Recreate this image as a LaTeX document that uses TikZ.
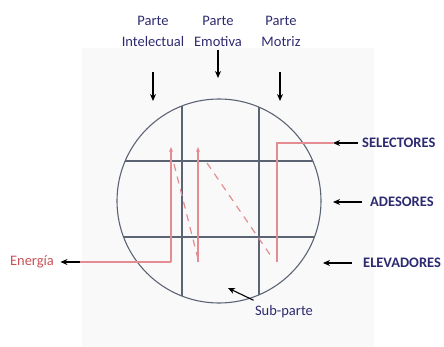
\documentclass[tikz,border=0pt]{standalone}
\usepackage{fontspec}
\setmainfont{Carlito}
\usetikzlibrary{positioning,arrows.meta}

\definecolor{navy}{RGB}{45,42,112}
\definecolor{gridgray}{RGB}{92,100,116}
\definecolor{rosa}{RGB}{228,140,146}
\definecolor{energia}{RGB}{200,82,88}

\tikzset{
  parte/.style={text=navy, font=\fontsize{14.5}{21}\selectfont, align=center},
  tag/.style={text=navy, font=\bfseries\fontsize{14.5}{17}\selectfont, anchor=west, inner sep=0pt},
  pointer/.style={-{Stealth[length=7pt,width=6pt]}, line width=1.1pt},
  flow/.style={rosa, line width=1.2pt},
  sube/.style={flow, -{Stealth[length=5pt,width=4pt]}},
  cruce/.style={rosa, line width=1.2pt, dash pattern=on 7pt off 6pt}
}

\begin{document}
\begin{tikzpicture}[x=1pt, y=-1pt]

    \useasboundingbox (0,0) rectangle (444,347);
    \fill[gray!5] (82,48) rectangle (374,347);

    % circle with grid
    \coordinate (O) at (219,201);
    \begin{scope}
        \clip (O) circle (102pt);
        \draw[gridgray, line width=1.1pt] (182,90) -- (182,310);
        \draw[gridgray, line width=1.1pt] (259,90) -- (259,310);
        \draw[gridgray, line width=1.1pt] (110,161) -- (330,161);
        \draw[gridgray, line width=1.1pt] (110,237) -- (330,237);
    \end{scope}
    \draw[gridgray, line width=1.1pt] (O) circle (102pt);

    % energy path
    \coordinate (e0) at (80,262);
    \coordinate (e1) at (171,262);
    \coordinate (t1) at (171,147);
    \coordinate (b2) at (198,262);
    \coordinate (t2) at (198,147);
    \coordinate (b3) at (277,262);
    \coordinate (t3) at (277,143);
    \coordinate (s1) at (333,143);

    \draw[flow] (e0) -- (e1);
    \draw[sube] (e1) -- (t1);
    \draw[sube] (b2) -- (t2);
    \draw[flow] (b3) -- (t3) -- (s1);
    \draw[cruce] ([xshift=3pt,yshift=-17pt]t1) -- ([yshift=3pt]b2);
    \draw[cruce] ([xshift=9pt,yshift=-16pt]t2) -- ([xshift=-4pt,yshift=3pt]b3);

    % top labels
    \node[parte] (int) at (153,31) {Parte\\Intelectual};
    \node[parte] (emo) at (218,31) {Parte\\Emotiva};
    \node[parte] (mot) at (281,31) {Parte\\Motriz};
    \coordinate (int-a) at (153,72);
    \coordinate (int-b) at (153,101);
    \coordinate (emo-a) at (218,50);
    \coordinate (emo-b) at (218,78);
    \coordinate (mot-a) at (280,72);
    \coordinate (mot-b) at (280,101);
    \draw[pointer] (int-a) -- (int-b);
    \draw[pointer] (emo-a) -- (emo-b);
    \draw[pointer] (mot-a) -- (mot-b);

    % right labels
    \node[tag] (sel) at (362,143) {SELECTORES};
    \node[tag] (ade) at (370,202) {ADESORES};
    \node[tag] (ele) at (363,263) {ELEVADORES};
    \coordinate (ade-b) at (333,202);
    \coordinate (ele-b) at (323,263);
    \draw[pointer] ([xshift=-4pt]sel.west) -- (s1);
    \draw[pointer] ([xshift=-8pt]ade.west) -- (ade-b);
    \draw[pointer] ([xshift=-11pt]ele.west) -- (ele-b);

    % energy and sub-part
    \node[text=energia, font=\fontsize{14.5}{17}\selectfont] (en) at (32,262) {Energía};
    \draw[pointer, shorten >=3pt] (e0) -- (en.east);
    \node[parte] (sub) at (284,312) {Sub-parte};
    \coordinate (sub-b) at (228,288);
    \draw[pointer] ([xshift=2pt,yshift=2pt]sub.north west) -- (sub-b);

\end{tikzpicture}
\end{document}
